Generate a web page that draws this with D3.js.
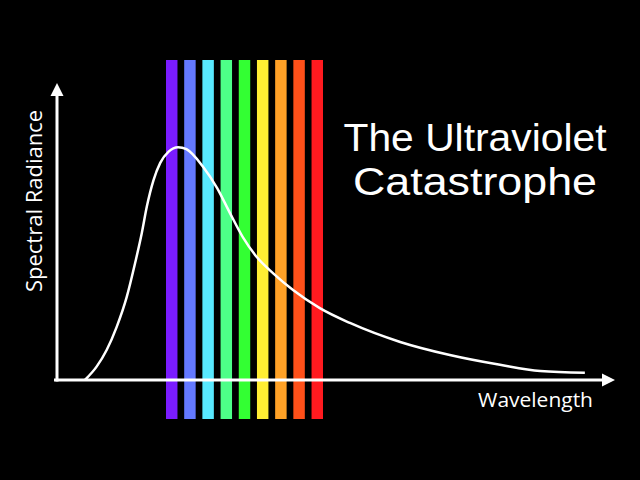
<!DOCTYPE html>
<html><head><meta charset="utf-8">
<script src="https://cdn.jsdelivr.net/npm/d3@7"></script>
<style>html,body{margin:0;padding:0;background:#000;}svg{display:block;}</style>
</head><body>
<svg id="c" width="640" height="480"></svg>
<script>
// Spectrum bands (visible light, violet → red)
const bandNames = ["violet","blue-violet","cyan","light green","green","yellow","orange","red-orange","red"];
const bandColors = ["#7a1cff","#6479ff","#58e8ff","#4dff88","#33ff33","#ffee33","#ffa126","#ff5019","#ff1a1f"];
// Black-body curve (arbitrary units, 0-100)
const wavelength = [5.0, 7.1, 8.9, 10.7, 12.5, 14.0, 15.2, 16.1, 17.3, 18.5, 20.0, 21.7, 23.2, 26.2, 28.7, 31.0, 33.3, 35.8, 38.7, 42.3, 47.1, 52.5, 61.5, 70.4, 79.4, 86.6, 94.6];
const radiance   = [0.0, 4.5, 10.1, 17.9, 28.0, 39.4, 49.5, 58.4, 67.3, 73.1, 76.9, 78.4, 77.7, 71.7, 64.6, 56.2, 48.1, 41.4, 36.0, 30.3, 24.2, 19.2, 12.8, 8.4, 5.1, 3.0, 2.4];
const titleLines = ["The Ultraviolet","Catastrophe"];
const xLabel = "Wavelength";
const yLabel = "Spectral Radiance";

const svg = d3.select("#c");
svg.append("rect").attr("width",640).attr("height",480).attr("fill","#000");

const x = d3.scaleLinear().domain([0,100]).range([57,615]);
const y = d3.scaleLinear().domain([0,100]).range([380,83]);
const band = d3.scaleBand().domain(bandNames).range([166,323]).paddingInner(0.37).paddingOuter(0);

// spectrum bars
svg.append("g").selectAll("rect").data(bandNames).join("rect")
  .attr("x",d=>band(d)).attr("width",band.bandwidth())
  .attr("y",60).attr("height",359)
  .attr("fill",(d,i)=>bandColors[i]);

// axes
const ax = svg.append("g").attr("stroke","#fff").attr("fill","#fff");
ax.append("line").attr("x1",x(0)-3).attr("x2",x(100)-10).attr("y1",y(0)).attr("y2",y(0)).attr("stroke-width",3);
ax.append("line").attr("x1",x(0)).attr("x2",x(0)).attr("y1",y(0)+1.5).attr("y2",y(100)+10).attr("stroke-width",3);
ax.append("path").attr("stroke","none")
  .attr("d",`M${x(100)},${y(0)} L${x(100)-13},${y(0)-6.5} L${x(100)-13},${y(0)+6.5} Z`);
ax.append("path").attr("stroke","none")
  .attr("d",`M${x(0)},${y(100)} L${x(0)-6.5},${y(100)+13} L${x(0)+6.5},${y(100)+13} Z`);

// curve
const pts = wavelength.map((w,i)=>[w,radiance[i]]);
svg.append("path").datum(pts)
  .attr("d",d3.line().x(d=>x(d[0])).y(d=>y(d[1])).curve(d3.curveMonotoneX))
  .attr("fill","none").attr("stroke","#fff").attr("stroke-width",2.5);

const font = "'Open Sans', 'Noto Sans', sans-serif";
// title
svg.append("g").selectAll("text").data(titleLines).join("text")
  .attr("x",475).attr("y",(d,i)=>151+i*44)
  .attr("text-anchor","middle").attr("fill","#fff")
  .attr("font-family","'Liberation Sans', Arial, sans-serif").attr("font-size",38)
  .attr("textLength",(d,i)=>i===0?263:244).attr("lengthAdjust","spacingAndGlyphs")
  .text(d=>d);
// axis labels
svg.append("text").attr("x",478).attr("y",407).attr("fill","#fff")
  .attr("font-family",font).attr("font-size",20)
  .attr("textLength",115).attr("lengthAdjust","spacingAndGlyphs").text(xLabel);
svg.append("text").attr("transform","translate(42,292) rotate(-90)").attr("fill","#fff")
  .attr("font-family",font).attr("font-size",21)
  .attr("textLength",182).attr("lengthAdjust","spacingAndGlyphs").text(yLabel);
</script>
</body></html>
